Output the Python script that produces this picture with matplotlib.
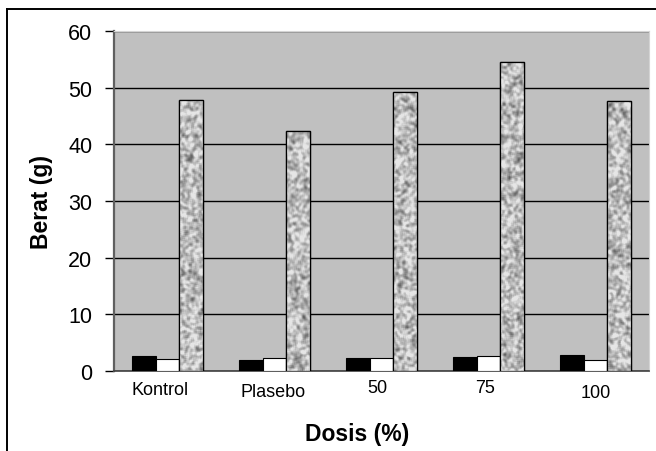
import matplotlib
matplotlib.use("Agg")
import matplotlib.pyplot as plt
from matplotlib.lines import Line2D
import numpy as np

plt.rcParams['font.family'] = ['Liberation Sans', 'DejaVu Sans']

# Data
categories = ['Kontrol', 'Plasebo', '50', '75', '100']
series_black = [2.6, 1.95, 2.3, 2.4, 2.85]
series_white = [2.05, 2.35, 2.3, 2.65, 1.95]
series_gray = [47.8, 42.4, 49.2, 54.5, 47.6]
yticks = [0, 10, 20, 30, 40, 50, 60]

# small label shifts seen in the original (pixels)
label_dx = [-7, -1.5, -4.5, -3.5, 0]
label_dy = [0, 2, -2, -2.5, 3]


def box_blur(a):
    s = a.copy()
    for di in (-1, 0, 1):
        for dj in (-1, 0, 1):
            if di or dj:
                s += np.roll(np.roll(a, di, axis=0), dj, axis=1)
    return s / 9.0


def granite(rows, cols, seed):
    # deterministic speckle texture for the gray bars
    i, j = np.mgrid[0:rows, 0:cols]
    v = np.sin(i * 12.9898 + j * 78.233 + seed * 37.719) * 43758.5453
    v = v - np.floor(v)
    s = box_blur(box_blur(v))
    z = (s - s.mean()) / s.std()
    return np.clip(0.74 + 0.11 * z, 0.35, 0.9)


fig = plt.figure(figsize=(6.56, 4.52), dpi=100)
ax = fig.add_axes([114 / 656, 80 / 452, 535 / 656, 340 / 452])
ax.set_facecolor('#c0c0c0')

x = np.arange(len(categories))
w = 0.22
ax.bar(x - w, series_black, w, color='black', edgecolor='black', linewidth=0.8, zorder=3)
ax.bar(x, series_white, w, color='white', edgecolor='black', linewidth=0.8, zorder=3)
gbars = ax.bar(x + w, series_gray, w, color='#b8b8b8', edgecolor='black', linewidth=0.9, zorder=3)

for k, b in enumerate(gbars):
    x0 = b.get_x()
    tex = granite(340, 24, k + 1)
    im = ax.imshow(tex, extent=(x0, x0 + w, 0, 60), cmap='gray', vmin=0, vmax=1,
                   aspect='auto', interpolation='bilinear', zorder=3.5)
    im.set_clip_path(b)
    ax.bar(x0 + w / 2, series_gray[k], w, fill=False, edgecolor='black', linewidth=0.9, zorder=4)

ax.set_xlim(-0.5, len(categories) - 0.5)
ax.set_ylim(0, 60)
ax.set_yticks(yticks)
ax.set_yticklabels([str(t) for t in yticks], fontsize=15.5)
ax.yaxis.grid(True, color='black', linewidth=1.0)
ax.set_axisbelow(True)
ax.tick_params(axis='y', length=6.5, width=1.0, color='black', pad=9)
ax.tick_params(axis='x', length=0, labelbottom=False)

ax.spines['left'].set_color('#606060')
ax.spines['left'].set_linewidth(1.6)
ax.spines['bottom'].set_color('#404040')
ax.spines['bottom'].set_linewidth(1.2)
ax.spines['top'].set_color('#d4d4d4')
ax.spines['right'].set_color('#d4d4d4')

for i, lab in enumerate(categories):
    ax.annotate(lab, xy=(i, 0), xycoords=('data', 'axes fraction'),
                xytext=(label_dx[i], -19 - label_dy[i]), textcoords='offset pixels',
                ha='center', va='center', fontsize=13)

ax.set_ylabel('Berat (g)', fontsize=16.5, fontweight='bold')
ax.yaxis.set_label_coords((53 - 114) / 535, 0.5)
fig.text(357 / 656, 1 - 435 / 452, 'Dosis (%)', ha='center', va='center',
         fontsize=16.5, fontweight='bold')

# outer chart frame (only top and left edges inside the image)
fy = 1 - 10 / 452
fx = 7 / 656
fig.add_artist(Line2D([fx, 1.0], [fy, fy], color='black', linewidth=1.4, transform=fig.transFigure))
fig.add_artist(Line2D([fx, fx], [0.0, fy], color='black', linewidth=1.4, transform=fig.transFigure))

fig.savefig('out.png', dpi=100)
